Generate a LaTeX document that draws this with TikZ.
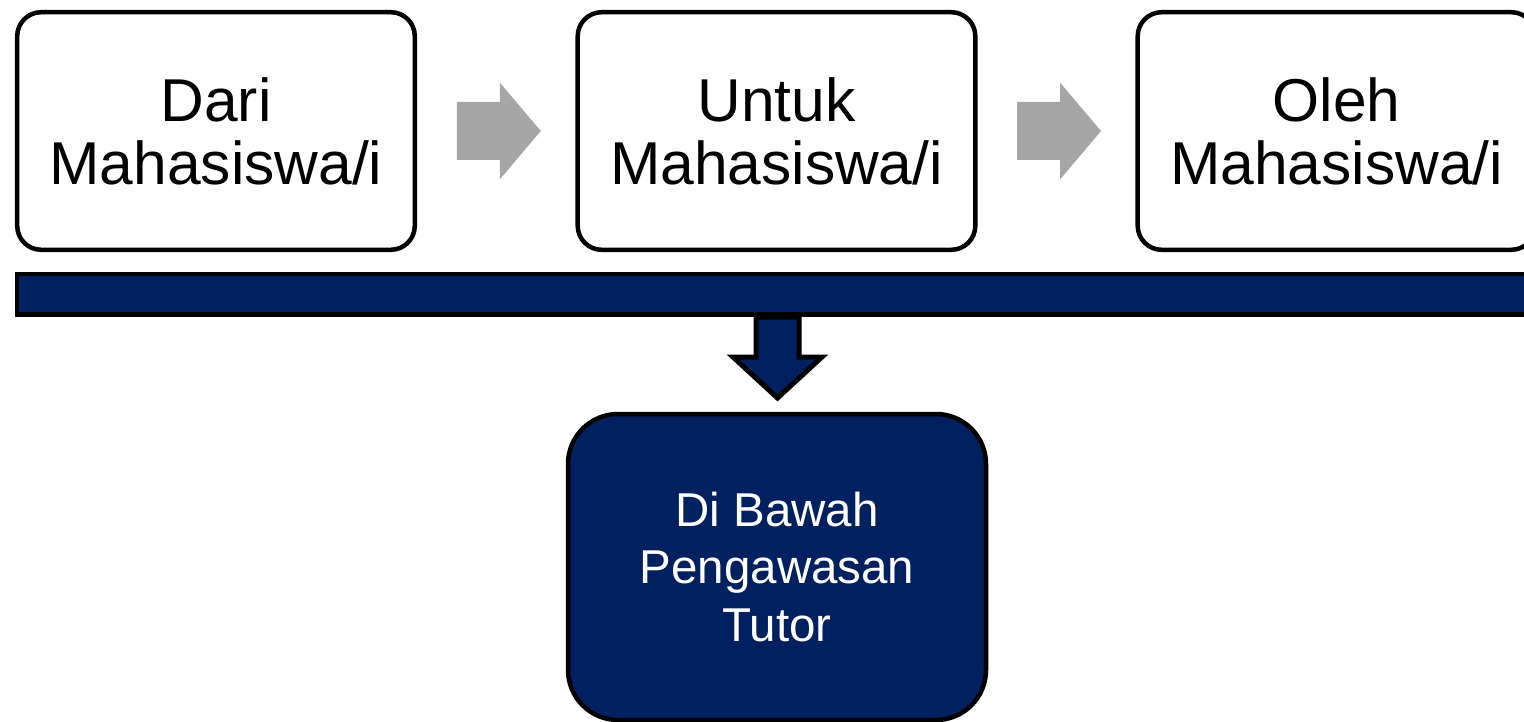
\documentclass[tikz,border=0pt]{standalone}
\usepackage{fontspec}
\setmainfont{Liberation Sans}
\usetikzlibrary{calc}
\definecolor{navy}{RGB}{0,32,96}
\definecolor{arrgray}{RGB}{166,166,166}
\begin{document}
\begin{tikzpicture}[x=1pt,y=-1pt,
  topbox/.style={draw=black, line width=4.5pt, fill=white, rounded corners=24pt,
    minimum width=397.6pt, minimum height=237.6pt, inner sep=0pt, align=center,
    font=\fontsize{60.5}{63}\selectfont},
  barbox/.style={draw=black, line width=4.5pt, fill=navy, minimum width=1543pt,
    minimum height=40.5pt, inner sep=0pt},
  navybox/.style={draw=black, line width=4.5pt, fill=navy, rounded corners=50pt,
    minimum width=418pt, minimum height=306pt, inner sep=0pt, align=center,
    text=white, font=\fontsize{47.5}{57.5}\selectfont},
  grayarrow/.style={fill=arrgray},
  downarrow/.style={draw=black, line width=5pt, fill=navy, line join=miter}]
\useasboundingbox (0,0) rectangle (1524,722);
\clip (0,0) rectangle (1524,722);

\node[topbox] (b1) at (216,131) {Dari\\Mahasiswa/i};
\node[topbox] (b2) at (776.5,131) {Untuk\\Mahasiswa/i};
\node[topbox] (b3) at (1336.5,131) {Oleh\\Mahasiswa/i};

% gray arrows between the boxes
\coordinate (g1) at ($(b1.east)!0.5!(b2.west)+(2.5,0)$);
\coordinate (g2) at ($(b2.east)!0.5!(b3.west)+(2.5,0)$);
\foreach \g in {g1,g2}{
  \fill[grayarrow] ($(\g)+(-42,-29)$) -- ++(43,0) -- ++(0,-19.5) -- ++(41,48.5)
    -- ++(-41,48.5) -- ++(0,-19.5) -- ++(-43,0) -- cycle;
}

% down arrow (drawn before the bar so the bar covers its top)
\coordinate (dtop) at (777.5,317);
\draw[downarrow] ($(dtop)+(-21.5,0)$) -- ++(0,40) -- ++(-23,0) -- ++(44.5,41)
  -- ++(44.5,-41) -- ++(-23,0) -- ++(0,-40) -- cycle;

% horizontal bar
\node[barbox] (bar) at (788.5,294.25) {};

% bottom box
\node[navybox] (tutor) at (777,567) {Di Bawah\\Pengawasan\\Tutor};
\end{tikzpicture}
\end{document}
